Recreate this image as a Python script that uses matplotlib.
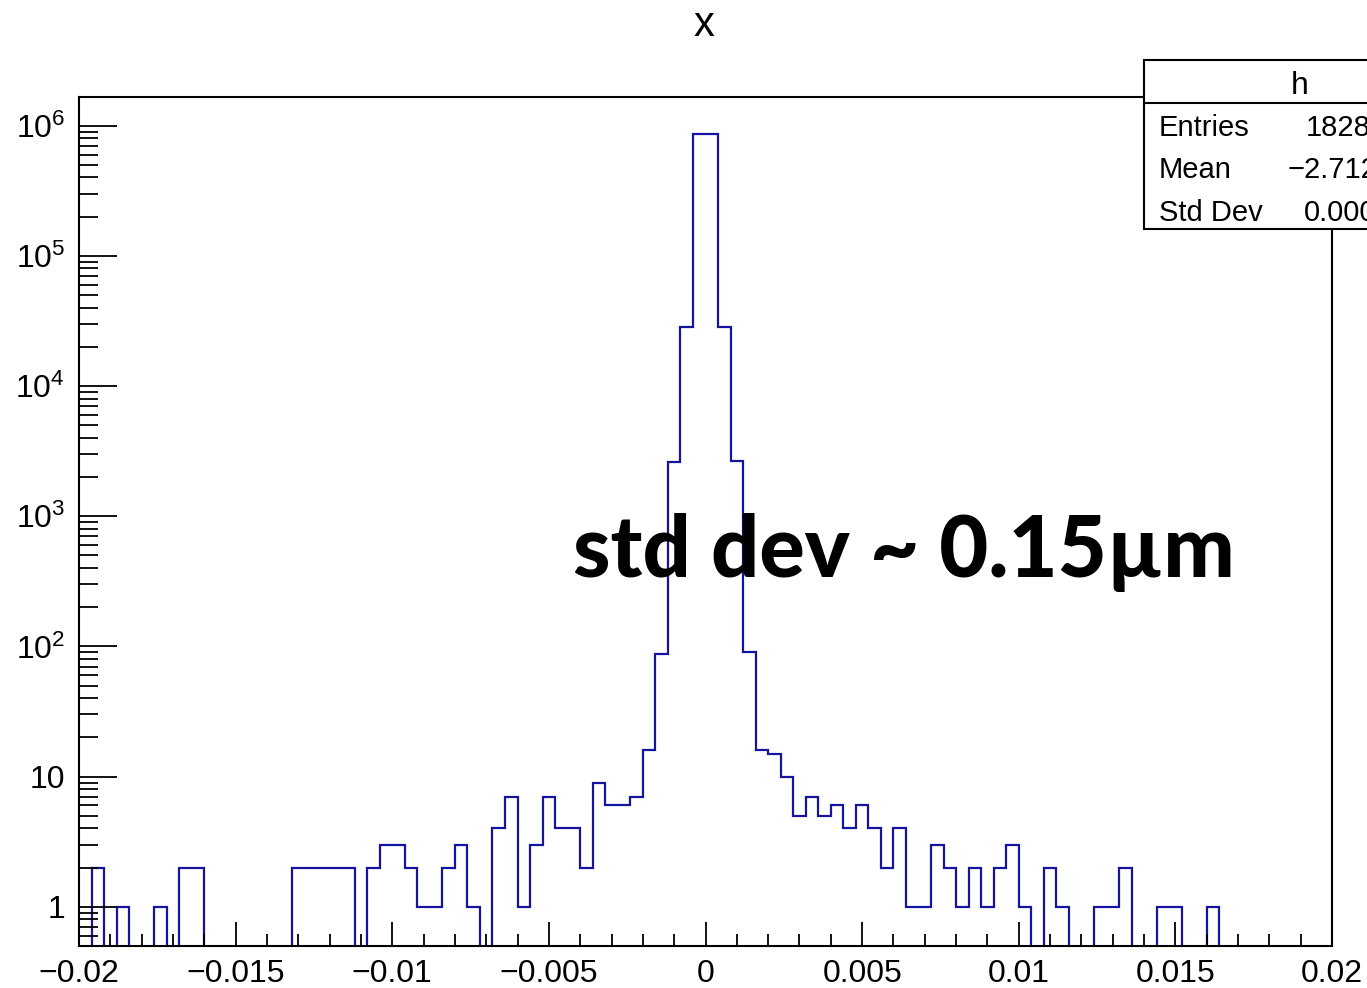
import numpy as np
import matplotlib
matplotlib.use('Agg')
from matplotlib import pyplot as plt
from matplotlib.ticker import MultipleLocator, LogLocator, FixedLocator, NullFormatter
from matplotlib.patches import Rectangle
from matplotlib.lines import Line2D

plt.rcParams['font.family'] = ['Liberation Sans', 'DejaVu Sans']
plt.rcParams['mathtext.fontset'] = 'custom'
plt.rcParams['mathtext.rm'] = 'Liberation Sans'
plt.rcParams['mathtext.it'] = 'Liberation Sans'

# histogram "h": 100 bins from -0.02 to 0.02
x_min, x_max, n_bins = -0.02, 0.02, 100
counts = [
    0, 2, 0, 1, 0, 0, 1, 0, 2, 2,
    0, 0, 0, 0, 0, 0, 0, 2, 2, 2,
    2, 2, 0, 2, 3, 3, 2, 1, 1, 2,
    3, 1, 0, 4, 7, 1, 3, 7, 4, 4,
    2, 9, 6, 6, 7, 16, 88, 2600, 28500, 870000,
    870000, 28500, 2640, 91, 16, 15, 10, 5, 7, 5,
    6, 4, 6, 4, 2, 4, 1, 1, 3, 2,
    1, 2, 1, 2, 3, 1, 0, 2, 1, 0,
    0, 1, 1, 2, 0, 0, 1, 1, 0, 0,
    1, 0, 0, 0, 0, 0, 0, 0, 0, 0,
]

xticks = [-0.02, -0.015, -0.01, -0.005, 0, 0.005, 0.01, 0.015, 0.02]
xtick_labels = ['\u22120.02', '\u22120.015', '\u22120.01', '\u22120.005', '0',
                '0.005', '0.01', '0.015', '0.02']
yticks = [1, 10, 1e2, 1e3, 1e4, 1e5, 1e6]
ytick_labels = ['1', '10', r'$\mathregular{10^{2}}$', r'$\mathregular{10^{3}}$',
                r'$\mathregular{10^{4}}$', r'$\mathregular{10^{5}}$', r'$\mathregular{10^{6}}$']

stat_names = ['Entries', 'Mean', 'Std Dev']
stat_values = ['1828040', '\u22122.712e\u221207', '0.0001537']

W, H = 1367, 988
fig = plt.figure(figsize=(W / 100, H / 100), dpi=100)
ax = fig.add_axes([79 / W, 1 - 946 / H, (1332 - 79) / W, (946 - 97) / H])

edges = np.linspace(x_min, x_max, n_bins + 1)
c = np.array(counts, dtype=float)
plot_c = np.where(c > 0, c, 1e-3)
ax.stairs(plot_c, edges, baseline=None, color='#1414a0', lw=1.6)

ax.set_yscale('log')
ax.set_xlim(x_min, x_max)
ax.set_ylim(0.5, 1.66e6)

ax.xaxis.set_major_locator(FixedLocator(xticks))
ax.set_xticklabels(xtick_labels)
ax.xaxis.set_minor_locator(MultipleLocator(0.001))
ax.yaxis.set_major_locator(FixedLocator(yticks))
ax.set_yticklabels(ytick_labels)
ax.yaxis.set_minor_locator(LogLocator(base=10, subs=np.arange(2, 10), numticks=20))
ax.yaxis.set_minor_formatter(NullFormatter())

ax.tick_params(axis='both', which='both', direction='in', top=False, right=False,
               labelsize=23, width=1.3, color='black')
ax.tick_params(axis='x', which='major', length=17, pad=9)
ax.tick_params(axis='x', which='minor', length=8.5)
ax.tick_params(axis='y', which='major', length=27, pad=10)
ax.tick_params(axis='y', which='minor', length=13.5)
for s in ax.spines.values():
    s.set_linewidth(1.5)

fig.text(704 / W, 1 - 25 / H, 'x', ha='center', va='center', fontsize=30)

fig.text(573 / W, 1 - 577 / H, 'std dev ~ 0.15\u00b5m', ha='left', va='baseline',
         fontsize=61, fontweight='black', family=['Lato', 'DejaVu Sans'])

# stats box (clipped by the right edge, as in the original)
box = Rectangle((1144 / W, 1 - 229 / H), 300 / W, (229 - 60) / H,
                transform=fig.transFigure, facecolor='white', edgecolor='black',
                lw=1.5, zorder=5)
fig.add_artist(box)
fig.add_artist(Line2D([1144 / W, 1.2], [1 - 103 / H, 1 - 103 / H],
                      transform=fig.transFigure, color='black', lw=1.5, zorder=6))
fig.text(1300 / W, 1 - 86 / H, 'h', ha='center', va='center', fontsize=23, zorder=7)
row_y = [128, 170, 213]
val_x = [1306, 1288, 1304]
for name, val, yy, vx in zip(stat_names, stat_values, row_y, val_x):
    fig.text(1159 / W, 1 - yy / H, name, ha='left', va='center', fontsize=21, zorder=7)
    fig.text(vx / W, 1 - yy / H, val, ha='left', va='center', fontsize=21, zorder=7)

fig.savefig('out.png', dpi=100)
